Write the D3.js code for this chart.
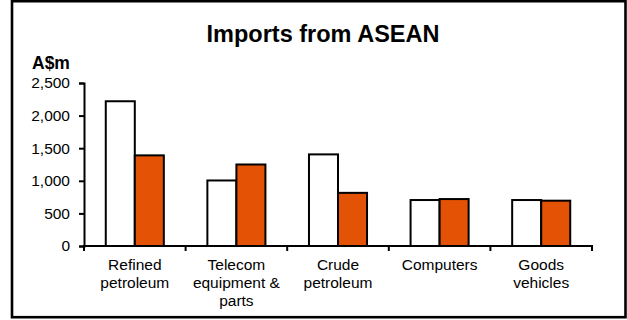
<!DOCTYPE html>
<html>
<head>
<meta charset="utf-8">
<script src="https://cdn.jsdelivr.net/npm/d3@7"></script>
<style>
  html, body { margin: 0; padding: 0; background: #fff; }
  svg { display: block; font-family: Arial, "Liberation Sans", sans-serif; }
</style>
</head>
<body>
<svg id="chart" width="627" height="320"></svg>
<script>
const categories = [["Refined", "petroleum"], ["Telecom", "equipment &", "parts"], ["Crude", "petroleum"], ["Computers"], ["Goods", "vehicles"]];
const categoryKeys = ["Refined petroleum", "Telecom equipment & parts", "Crude petroleum", "Computers", "Goods vehicles"];
const seriesNames = ["Series 1", "Series 2"];
const series1 = [2220, 1005, 1405, 705, 705];
const series2 = [1390, 1250, 815, 720, 695];
const yTicks = [0, 500, 1000, 1500, 2000, 2500];
const titleText = "Imports from ASEAN";
const unitText = "A$m";

const svg = d3.select("#chart");

// Frame
svg.append("rect")
  .attr("x", 12).attr("y", 1.2)
  .attr("width", 613.5).attr("height", 316)
  .attr("fill", "#fff").attr("stroke", "#000").attr("stroke-width", 2.6);

const plot = { left: 84, right: 592, top: 83, bottom: 246 };

const x = d3.scaleBand().domain(categoryKeys).range([plot.left, plot.right]).padding(0);
const xInner = d3.scaleBand().domain(seriesNames).range([0, x.bandwidth()]).paddingInner(0).paddingOuter(0.75);
const y = d3.scaleLinear().domain([0, 2500]).range([plot.bottom, plot.top]);

const colors = ["#ffffff", "#e35205"];
const data = categoryKeys.map((k, i) => ({ key: k, values: [series1[i], series2[i]] }));

// Bars
const g = svg.append("g");
data.forEach(d => {
  d.values.forEach((v, j) => {
    g.append("rect")
      .attr("x", x(d.key) + xInner(seriesNames[j]))
      .attr("y", y(v))
      .attr("width", xInner.bandwidth())
      .attr("height", y(0) - y(v))
      .attr("fill", colors[j])
      .attr("stroke", "#000")
      .attr("stroke-width", 2);
  });
});

// Y axis
const yAxis = d3.axisLeft(y).tickValues(yTicks).tickSize(5).tickPadding(9)
  .tickFormat(d3.format(","));
const yg = svg.append("g").attr("transform", `translate(${plot.left},0)`).call(yAxis);
yg.select(".domain").attr("stroke", "#000").attr("stroke-width", 2);
yg.selectAll(".tick line").attr("stroke", "#000").attr("stroke-width", 2);
yg.selectAll(".tick text").attr("font-size", "15.5px").attr("fill", "#000")
  .attr("font-family", "Arial, 'Liberation Sans', sans-serif");

// X axis
const boundaries = categoryKeys.map(k => x(k)).concat([plot.right]);
svg.append("line")
  .attr("x1", plot.left - 1).attr("x2", plot.right + 1)
  .attr("y1", plot.bottom).attr("y2", plot.bottom)
  .attr("stroke", "#000").attr("stroke-width", 2);
svg.selectAll(".xtick").data(boundaries).enter().append("line")
  .attr("x1", d => d).attr("x2", d => d)
  .attr("y1", plot.bottom).attr("y2", plot.bottom + 5)
  .attr("stroke", "#000").attr("stroke-width", 2);

// Category labels
categoryKeys.forEach((k, i) => {
  const t = svg.append("text")
    .attr("x", x(k) + x.bandwidth() / 2)
    .attr("y", 270)
    .attr("text-anchor", "middle")
    .attr("font-size", "15.5px")
    .attr("fill", "#000");
  categories[i].forEach((line, li) => {
    t.append("tspan")
      .attr("x", x(k) + x.bandwidth() / 2)
      .attr("dy", li === 0 ? 0 : 18)
      .text(line);
  });
});

// Title
svg.append("text")
  .attr("x", 323).attr("y", 42)
  .attr("text-anchor", "middle")
  .attr("font-size", "23.5px").attr("font-weight", "bold")
  .text(titleText);

// Unit
svg.append("text")
  .attr("x", 32).attr("y", 69)
  .attr("font-size", "17.5px").attr("font-weight", "bold")
  .text(unitText);
</script>
</body>
</html>
